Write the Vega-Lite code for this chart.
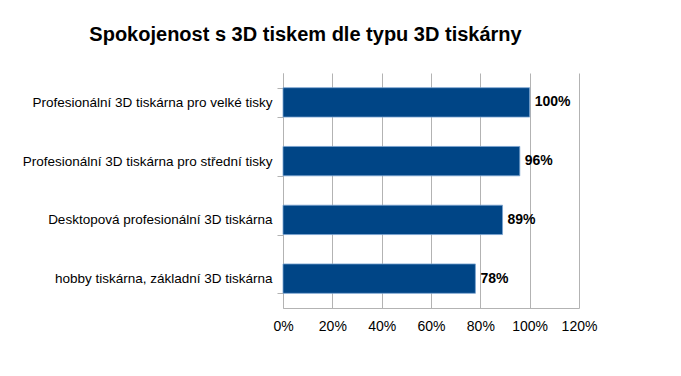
{
  "$schema": "https://vega.github.io/schema/vega-lite/v6.json",
  "autosize": "none",
  "width": 296,
  "height": 235,
  "padding": {"left": 283, "top": 73, "right": 102, "bottom": 68},
  "background": "white",
  "config": {
    "font": "Liberation Sans",
    "view": {"stroke": null}
  },
  "title": {
    "text": "Spokojenost s 3D tiskem dle typu 3D tiskárny",
    "font": "Liberation Sans",
    "fontSize": 20,
    "fontWeight": "bold",
    "color": "#000000",
    "anchor": "middle",
    "frame": "bounds",
    "offset": 21,
    "dx": -4
  },
  "data": {
    "values": [
      {"typ": "Profesionální 3D tiskárna pro velké tisky", "spokojenost": 1.00},
      {"typ": "Profesionální 3D tiskárna pro střední tisky", "spokojenost": 0.96},
      {"typ": "Desktopová profesionální 3D tiskárna", "spokojenost": 0.89},
      {"typ": "hobby tiskárna, základní 3D tiskárna", "spokojenost": 0.78}
    ]
  },
  "encoding": {
    "y": {
      "field": "typ",
      "type": "nominal",
      "sort": null,
      "title": null,
      "scale": {"paddingInner": 0.5, "paddingOuter": 0.25},
      "axis": {
        "labelFont": "Liberation Sans",
        "labelFontSize": 13.5,
        "labelColor": "#000000",
        "labelPadding": 5,
        "tickBand": "extent",
        "tickExtra": true,
        "tickColor": "#b3b3b3",
        "tickSize": 6,
        "domainColor": "#b3b3b3",
        "grid": false,
        "labelLimit": 400
      }
    },
    "x": {
      "field": "spokojenost",
      "type": "quantitative",
      "title": null,
      "scale": {"domain": [0, 1.2], "nice": false},
      "axis": {
        "values": [0, 0.2, 0.4, 0.6, 0.8, 1.0, 1.2],
        "format": ".0%",
        "labelFont": "Liberation Sans",
        "labelFontSize": 14,
        "labelColor": "#000000",
        "labelPadding": 11,
        "labelFlush": false,
        "labelOverlap": false,
        "ticks": false,
        "domainColor": "#b3b3b3",
        "gridColor": "#b3b3b3",
        "grid": true
      }
    }
  },
  "layer": [
    {
      "mark": {"type": "bar", "color": "#004586", "stroke": "#7aa3d1", "strokeWidth": 0.8}
    },
    {
      "mark": {"type": "text", "align": "left", "baseline": "middle", "dx": 5, "fontSize": 14, "fontWeight": "bold", "color": "#000000", "font": "Liberation Sans"},
      "encoding": {
        "text": {"field": "spokojenost", "type": "quantitative", "format": ".0%"}
      }
    }
  ]
}
